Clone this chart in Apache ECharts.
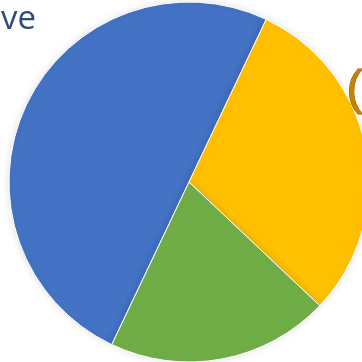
<!DOCTYPE html>
<html>
<head>
<meta charset="utf-8">
<script src="https://cdn.jsdelivr.net/npm/echarts@6/dist/echarts.min.js"></script>
<style>
    html, body { margin: 0; padding: 0; background: #fff; }
    #chart { width: 362px; height: 362px; }
</style>
</head>
<body>
<div id="chart"></div>
<script>
    var names = ['A', 'B', 'C'];
    var values = [50, 30, 20];
    var colors = ['#4472c4', '#ffc000', '#70ad47'];

    var chart = echarts.init(document.getElementById('chart'));

    var pieData = [];
    for (var i = 0; i < names.length; i++) {
        pieData.push({ name: names[i], value: values[i], itemStyle: { color: colors[i] } });
    }

    var option = {
        animation: false,
        title: {
            text: 've',
            left: -4,
            top: -2,
            textStyle: {
                color: '#2f4b7c',
                fontFamily: 'Open Sans',
                fontWeight: 'normal',
                fontSize: 33
            }
        },
        graphic: [{
            type: 'text',
            left: 346,
            top: 66,
            z: 10,
            style: {
                text: '(',
                fill: '#c98200',
                stroke: '#8a5200',
                lineWidth: 1,
                font: '48px "Liberation Sans"'
            }
        }],
        series: [{
            type: 'pie',
            center: [189, 182],
            radius: 180,
            startAngle: -115.4,
            clockwise: true,
            label: { show: false },
            labelLine: { show: false },
            itemStyle: {
                borderColor: '#fff',
                borderWidth: 1,
                shadowBlur: 8,
                shadowColor: 'rgba(0,0,0,0.12)'
            },
            data: pieData
        }]
    };

    chart.setOption(option);
</script>
</body>
</html>
